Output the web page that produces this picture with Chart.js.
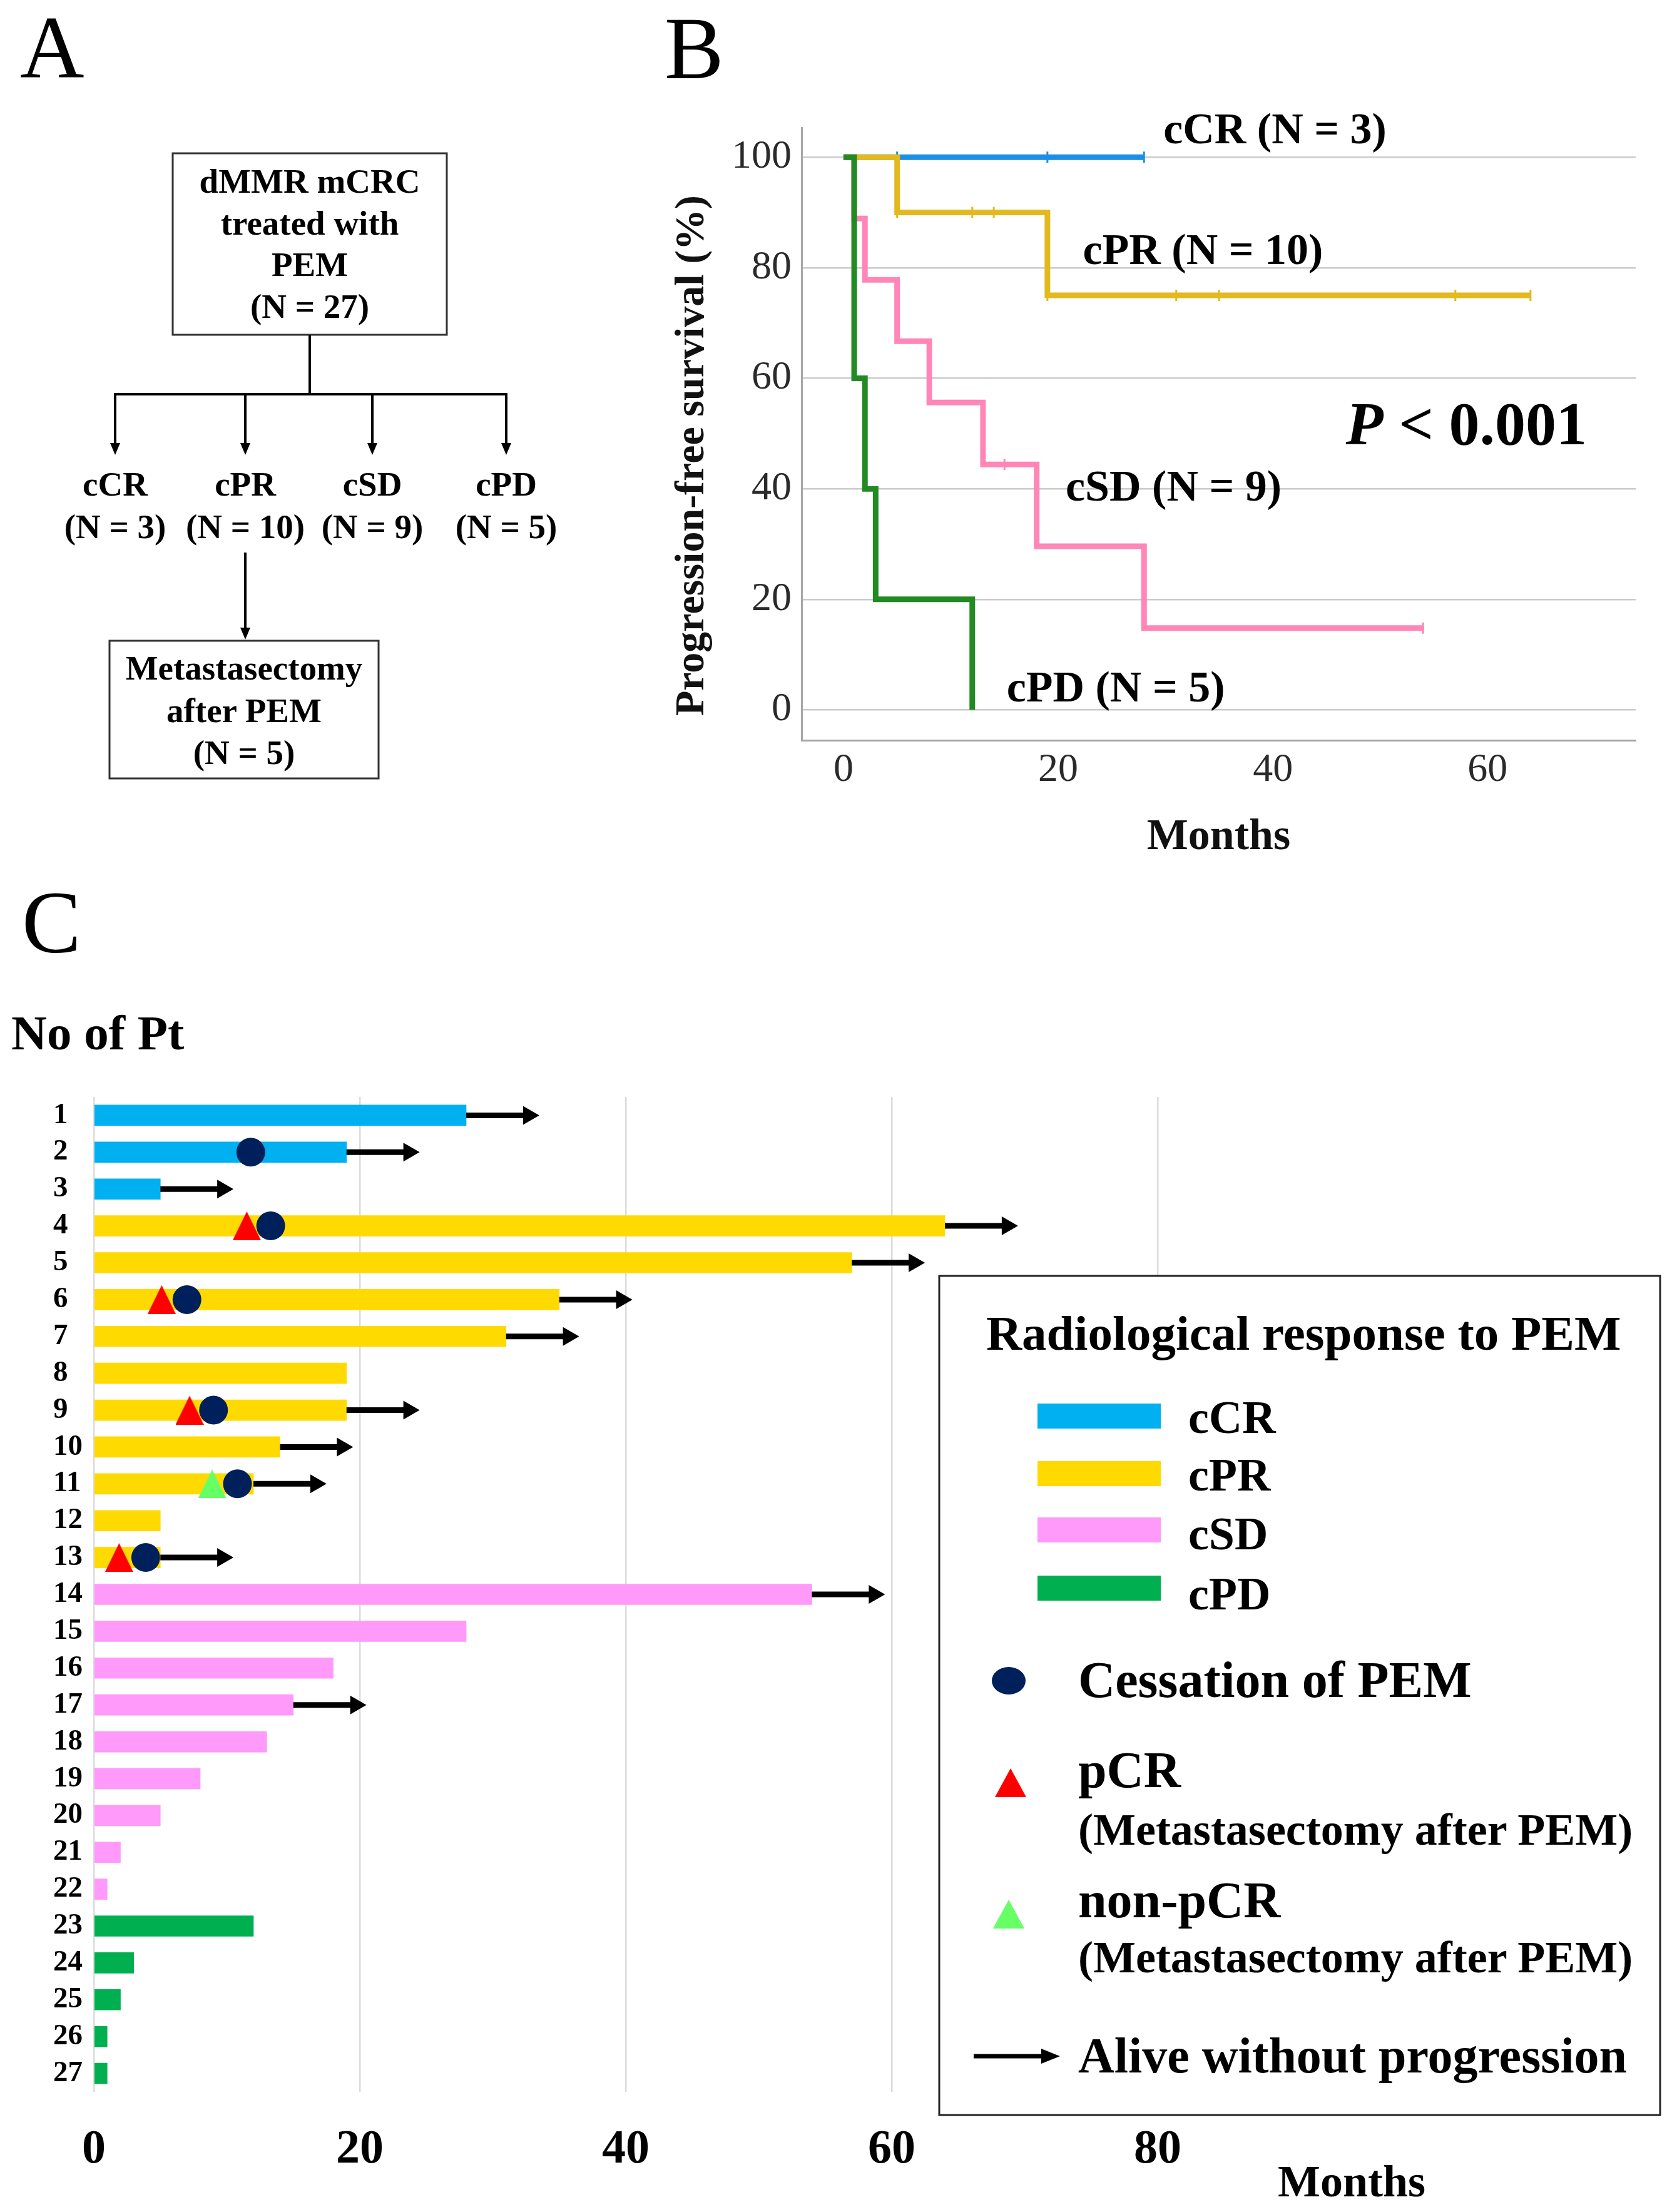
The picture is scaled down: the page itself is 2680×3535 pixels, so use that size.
<!DOCTYPE html>
<html>
<head>
<meta charset="utf-8">
<script src="https://cdn.jsdelivr.net/npm/chart.js@4.4.1/dist/chart.umd.min.js"></script>
<style>
    html, body { margin: 0; padding: 0; background: #fff; }
    #page { position: relative; width: 2680px; height: 3535px; overflow: hidden; background: #fff; }
    canvas { position: absolute; }
    #km { left: 1060px; top: 150px; }
    #swim { left: 0; top: 1700px; }
    #overlay { position: absolute; left: 0; top: 0; }
</style>
</head>
<body>
<div id="page">
    <canvas id="km" width="1620" height="1250"></canvas>
    <canvas id="swim" width="2680" height="1835"></canvas>

    <svg id="overlay" width="2680" height="3535" font-family="'Liberation Serif', 'Times New Roman', serif">
        <!-- panel letters -->
        <text x="32" y="123" font-size="142">A</text>
        <text x="1062" y="125" font-size="142">B</text>
        <text x="35" y="1522" font-size="142">C</text>

        <!-- panel A flow -->
        <g font-weight="bold" font-size="55" text-anchor="middle">
            <rect x="276" y="245" width="438" height="290" fill="none" stroke="#333" stroke-width="3"/>
            <text x="495" y="308">dMMR mCRC</text>
            <text x="495" y="375">treated with</text>
            <text x="495" y="441">PEM</text>
            <text x="495" y="508">(N = 27)</text>

            <g stroke="#000" stroke-width="4">
                <line x1="495" y1="535" x2="495" y2="630"/>
                <line x1="182" y1="630" x2="811" y2="630"/>
                <line x1="184" y1="630" x2="184" y2="712"/>
                <line x1="392" y1="630" x2="392" y2="712"/>
                <line x1="595" y1="630" x2="595" y2="712"/>
                <line x1="809" y1="630" x2="809" y2="712"/>
                <line x1="392" y1="883" x2="392" y2="1006"/>
            </g>
            <g fill="#000">
                <polygon points="184,727 176,708 192,708"/>
                <polygon points="392,727 384,708 400,708"/>
                <polygon points="595,727 587,708 603,708"/>
                <polygon points="809,727 801,708 817,708"/>
                <polygon points="392,1022 384,1003 400,1003"/>
            </g>

            <text x="184" y="792">cCR</text>
            <text x="392" y="792">cPR</text>
            <text x="595" y="792">cSD</text>
            <text x="809" y="792">cPD</text>
            <text x="184" y="860">(N = 3)</text>
            <text x="392" y="860">(N = 10)</text>
            <text x="595" y="860">(N = 9)</text>
            <text x="809" y="860">(N = 5)</text>

            <rect x="175" y="1024" width="430" height="220" fill="none" stroke="#333" stroke-width="3"/>
            <text x="390" y="1086">Metastasectomy</text>
            <text x="390" y="1154">after PEM</text>
            <text x="390" y="1221">(N = 5)</text>
        </g>

        <!-- panel B y title -->
        <text transform="translate(1124,728) rotate(-90)" font-size="66" font-weight="bold"
              text-anchor="middle" fill="#111">Progression-free survival (%)</text>

        <!-- panel C titles -->
        <text x="18" y="1677" font-size="79" font-weight="bold">No of Pt</text>
        <text x="2160" y="3510" font-size="72" font-weight="bold" text-anchor="middle">Months</text>

        <!-- panel C legend -->
        <g font-weight="bold">
            <rect x="1501" y="2039" width="1152" height="1341" fill="#fff" stroke="#222" stroke-width="3"/>
            <text x="1576" y="2157" font-size="79">Radiological response to PEM</text>
            <rect x="1658" y="2243" width="197" height="40" fill="#00B0F0"/>
            <rect x="1658" y="2335" width="197" height="40" fill="#FFDA00"/>
            <rect x="1658" y="2425" width="197" height="40" fill="#FF99FA"/>
            <rect x="1658" y="2518" width="197" height="40" fill="#00B050"/>
            <text x="1899" y="2290" font-size="74">cCR</text>
            <text x="1899" y="2382" font-size="74">cPR</text>
            <text x="1899" y="2476" font-size="74">cSD</text>
            <text x="1899" y="2572" font-size="74">cPD</text>

            <ellipse cx="1612" cy="2686" rx="27" ry="22" fill="#00205B"/>
            <text x="1723" y="2712" font-size="82">Cessation of PEM</text>

            <polygon points="1615,2826 1640,2872 1590,2872" fill="#FF0000"/>
            <text x="1723" y="2856" font-size="82">pCR</text>
            <text x="1723" y="2948" font-size="72">(Metastasectomy after PEM)</text>

            <polygon points="1612,3036 1637,3082 1587,3082" fill="#66FF66"/>
            <text x="1723" y="3064" font-size="82">non-pCR</text>
            <text x="1723" y="3152" font-size="72">(Metastasectomy after PEM)</text>

            <line x1="1556" y1="3286" x2="1670" y2="3286" stroke="#000" stroke-width="7"/>
            <polygon points="1694,3286 1664,3274 1664,3298" fill="#000"/>
            <text x="1723" y="3312" font-size="80">Alive without progression</text>
        </g>
    </svg>
</div>

<script>
    const FONT = "'Liberation Serif', 'Times New Roman', serif";
    Chart.defaults.font.family = FONT;

    // ---- panel B: Kaplan-Meier steps (months, PFS %) ----
    const crTime = [0, 28];
    const crSurv = [100, 100];
    const crCensTime = [5, 19, 28];
    const crCensSurv = [100, 100, 100];

    const prTime = [0, 5, 19, 64];
    const prSurv = [100, 90, 75, 75];
    const prCensTime = [5, 12, 14, 19, 31, 35, 57, 64];
    const prCensSurv = [90, 90, 90, 75, 75, 75, 75, 75];

    const sdTime = [0, 1, 2, 5, 8, 13, 18, 28, 54];
    const sdSurv = [100, 88.9, 77.8, 66.7, 55.6, 44.4, 29.6, 14.8, 14.8];
    const sdCensTime = [15, 54];
    const sdCensSurv = [44.4, 14.8];

    const pdTime = [0, 1, 2, 3, 12];
    const pdSurv = [100, 60, 40, 20, 0];

    const kmXTicks = [0, 20, 40, 60];
    const kmYTicks = [0, 20, 40, 60, 80, 100];

    // ---- panel C: swimmer plot ----
    const patients = ['1', '2', '3', '4', '5', '6', '7', '8', '9', '10', '11', '12', '13', '14',
        '15', '16', '17', '18', '19', '20', '21', '22', '23', '24', '25', '26', '27'];
    const pfsMonths = [28, 19, 5, 64, 57, 35, 31, 19, 19, 14, 12, 5, 5, 54,
        28, 18, 15, 13, 8, 5, 2, 1, 12, 3, 2, 1, 1];
    const response = ['cCR', 'cCR', 'cCR',
        'cPR', 'cPR', 'cPR', 'cPR', 'cPR', 'cPR', 'cPR', 'cPR', 'cPR', 'cPR',
        'cSD', 'cSD', 'cSD', 'cSD', 'cSD', 'cSD', 'cSD', 'cSD', 'cSD',
        'cPD', 'cPD', 'cPD', 'cPD', 'cPD'];
    const alivePatients = ['1', '2', '3', '4', '5', '6', '7', '9', '10', '11', '13', '14', '17'];
    const cessationPatients = ['2', '4', '6', '9', '11', '13'];
    const cessationMonths = [11.8, 13.3, 7.0, 9.0, 10.8, 3.9];
    const pcrPatients = ['4', '6', '9', '13'];
    const pcrMonths = [11.5, 5.1, 7.2, 1.9];
    const nonPcrPatients = ['11'];
    const nonPcrMonths = [8.9];
    const swimXTicks = [0, 20, 40, 60, 80];

    const KM_COLORS = {cCR: '#1C8FE3', cPR: '#E2BA1F', cSD: '#FF86B6', cPD: '#238A23'};
    const BAR_COLORS = {cCR: '#00B0F0', cPR: '#FFDA00', cSD: '#FF99FA', cPD: '#00B050'};
    const ARROW_MONTHS = 5.5;

    function pts(xs, ys) {
        return xs.map((x, i) => ({x: x, y: ys[i]}));
    }

    function kmLine(xs, ys, color) {
        return {
            data: pts(xs, ys),
            showLine: true,
            stepped: 'before',
            borderColor: color,
            borderWidth: 9,
            pointRadius: 0,
        };
    }

    function kmCensor(xs, ys, color) {
        return {
            data: pts(xs, ys),
            showLine: false,
            pointStyle: 'line',
            pointRotation: 90,
            pointRadius: 9,
            pointBorderWidth: 3,
            pointBorderColor: color,
            pointBackgroundColor: color,
        };
    }

    // group labels on panel B, placed in data units
    const kmLabels = [
        {text: 'cCR (N = 3)', x: 29.8, y: 102.5},
        {text: 'cPR (N = 10)', x: 22.3, y: 80.7},
        {text: 'cSD (N = 9)', x: 20.7, y: 37.9},
        {text: 'cPD (N = 5)', x: 15.2, y: 1.5},
    ];

    const kmLabelPlugin = {
        id: 'kmLabels',
        afterDraw(chart) {
            const {ctx, scales: {x, y}} = chart;
            ctx.save();
            ctx.fillStyle = '#000';
            ctx.textBaseline = 'alphabetic';
            ctx.textAlign = 'left';
            ctx.font = 'bold 70px ' + FONT;
            kmLabels.forEach(l => {
                ctx.fillText(l.text, x.getPixelForValue(l.x), y.getPixelForValue(l.y));
            });
            // p value
            const px = x.getPixelForValue(46.8);
            const py = y.getPixelForValue(48.0);
            ctx.font = 'italic bold 98px ' + FONT;
            ctx.fillText('P', px, py);
            const w = ctx.measureText('P').width;
            ctx.font = 'bold 98px ' + FONT;
            ctx.fillText(' < 0.001', px + w, py);
            ctx.restore();
        }
    };

    new Chart(document.getElementById('km'), {
        type: 'scatter',
        data: {
            datasets: [
                kmLine(pdTime, pdSurv, KM_COLORS.cPD),
                kmCensor(sdCensTime, sdCensSurv, KM_COLORS.cSD),
                kmLine(sdTime, sdSurv, KM_COLORS.cSD),
                kmCensor(prCensTime, prCensSurv, KM_COLORS.cPR),
                kmLine(prTime, prSurv, KM_COLORS.cPR),
                kmCensor(crCensTime, crCensSurv, KM_COLORS.cCR),
                kmLine(crTime, crSurv, KM_COLORS.cCR),
            ]
        },
        options: {
            responsive: false,
            animation: false,
            devicePixelRatio: 1,
            layout: {padding: {top: 54, right: 66, left: 0, bottom: 0}},
            plugins: {legend: {display: false}, tooltip: {enabled: false}},
            scales: {
                x: {
                    type: 'linear',
                    min: -3.9,
                    max: 73.8,
                    afterBuildTicks: s => { s.ticks = kmXTicks.map(v => ({value: v})); },
                    afterFit: s => { s.height = 217; },
                    grid: {display: false, drawTicks: false},
                    border: {display: true, color: '#a6a6a6', width: 3},
                    ticks: {font: {size: 64}, color: '#2a2a2a', padding: 10},
                    title: {
                        display: true, text: 'Months', color: '#111',
                        font: {size: 70, weight: 'bold'}, padding: {top: 0, bottom: 19}
                    },
                },
                y: {
                    type: 'linear',
                    min: -5.5,
                    max: 105.3,
                    afterBuildTicks: s => { s.ticks = kmYTicks.map(v => ({value: v})); },
                    afterFit: s => { s.width = 221; },
                    grid: {color: '#cbcbcb', lineWidth: 2.5, drawTicks: false},
                    border: {display: true, color: '#a6a6a6', width: 3},
                    ticks: {font: {size: 64}, color: '#2a2a2a', padding: 16},
                },
            },
        },
        plugins: [kmLabelPlugin],
    });

    // marker images for the swimmer plot
    function triangleImage(color, w, h) {
        const c = document.createElement('canvas');
        c.width = w;
        c.height = h;
        const g = c.getContext('2d');
        g.fillStyle = color;
        g.beginPath();
        g.moveTo(w / 2, 0);
        g.lineTo(w, h);
        g.lineTo(0, h);
        g.closePath();
        g.fill();
        return c;
    }

    const aliveArrows = {
        id: 'aliveArrows',
        afterDatasetsDraw(chart) {
            const {ctx, scales: {x, y}} = chart;
            ctx.save();
            ctx.fillStyle = '#000';
            ctx.strokeStyle = '#000';
            ctx.lineWidth = 9;
            alivePatients.forEach(p => {
                const i = patients.indexOf(p);
                const x0 = x.getPixelForValue(pfsMonths[i]);
                const x1 = x.getPixelForValue(pfsMonths[i] + ARROW_MONTHS);
                const yc = y.getPixelForValue(i);
                ctx.beginPath();
                ctx.moveTo(x0, yc);
                ctx.lineTo(x1 - 20, yc);
                ctx.stroke();
                ctx.beginPath();
                ctx.moveTo(x1, yc);
                ctx.lineTo(x1 - 26, yc - 15);
                ctx.lineTo(x1 - 26, yc + 15);
                ctx.closePath();
                ctx.fill();
            });
            ctx.restore();
        }
    };

    new Chart(document.getElementById('swim'), {
        type: 'bar',
        data: {
            labels: patients,
            datasets: [
                {
                    type: 'scatter',
                    data: cessationPatients.map((p, i) => ({x: cessationMonths[i], y: p})),
                    pointStyle: 'circle',
                    pointRadius: 23,
                    pointBackgroundColor: '#00205B',
                    pointBorderWidth: 0,
                },
                {
                    type: 'scatter',
                    data: pcrPatients.map((p, i) => ({x: pcrMonths[i], y: p})),
                    pointStyle: triangleImage('#FF0000', 45, 46),
                    pointRadius: 23,
                },
                {
                    type: 'scatter',
                    data: nonPcrPatients.map((p, i) => ({x: nonPcrMonths[i], y: p})),
                    pointStyle: triangleImage('#66FF66', 45, 46),
                    pointRadius: 23,
                },
                {
                    type: 'bar',
                    data: pfsMonths,
                    backgroundColor: response.map(r => BAR_COLORS[r]),
                    barThickness: 33,
                    borderWidth: 0,
                },
            ]
        },
        options: {
            indexAxis: 'y',
            responsive: false,
            animation: false,
            devicePixelRatio: 1,
            layout: {padding: {top: 53, right: 490, left: 85, bottom: 0}},
            plugins: {legend: {display: false}, tooltip: {enabled: false}},
            scales: {
                x: {
                    type: 'linear',
                    min: 0,
                    max: 96,
                    afterBuildTicks: s => { s.ticks = swimXTicks.map(v => ({value: v})); },
                    afterFit: s => { s.height = 192; },
                    grid: {color: '#dcdcdc', lineWidth: 2.5, drawTicks: false},
                    border: {display: false},
                    ticks: {font: {size: 76, weight: 'bold'}, color: '#000', padding: 48},
                },
                y: {
                    type: 'category',
                    offset: true,
                    afterFit: s => { s.width = 65; },
                    grid: {display: false, drawTicks: false},
                    border: {display: false},
                    ticks: {
                        crossAlign: 'far', autoSkip: false,
                        font: {size: 47, weight: 'bold'}, color: '#000', padding: 0
                    },
                },
            },
        },
        plugins: [aliveArrows],
    });
</script>
</body>
</html>
